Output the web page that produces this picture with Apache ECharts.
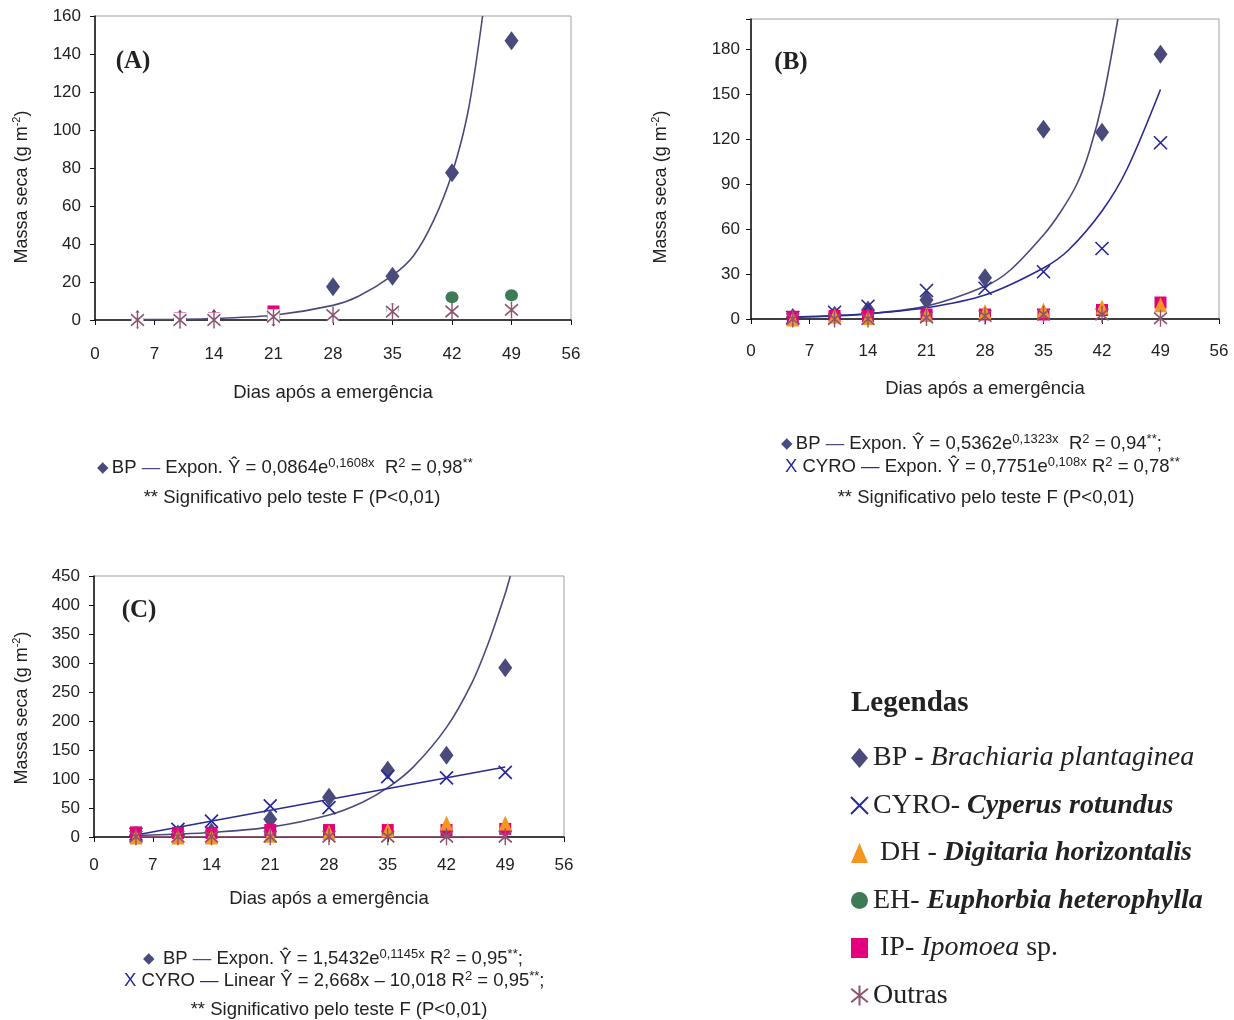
<!DOCTYPE html>
<html style="height: 100%" lang="pt">
<head>
  <meta charset="utf-8">
  <title>Massa seca</title>
</head>
<body style="height: 100%; margin: 0; background: #fff">
<div id="container" style="height: 1020px; width: 1234px"></div>

<script src="https://cdn.jsdelivr.net/npm/echarts@6/dist/echarts.min.js"></script>
<script type="text/javascript">
  // dias apos a emergencia (x of each sample)
  var dias = [5, 10, 14, 21, 28, 35, 42, 49];
  var xTicks = [0, 7, 14, 21, 28, 35, 42, 49, 56];

  // (A)
  var aBP = [0.3, 0.5, 0.8, 1.5, 17.5, 23, 77.5, 147];
  var aEH = [null, null, null, null, null, 5.5, 12, 13];
  var aIP = [null, 1, 1, 4.5, null, null, null, null];
  var aOutras = [0, 0, 0, 1.7, 2.6, 4.4, 4.5, 5.3];
  var aCurveBP = [[5, 0.2], [10, 0.4], [14, 0.8], [21, 2.5], [28, 7.7], [31, 12.5], [35, 23.5], [37.5, 34], [39.8, 52], [42, 77], [43.9, 110], [45.6, 160]];

  // (B)
  var bBP = [1, 2.5, 6, 12.7, 27.5, 126.5, 124.5, 176.5];
  var bCYRO = [1, 4.5, 8.5, 19, 20.5, 31.5, 47, 117.5];
  var bDH = [0, 2, 1, 3, 5, 6, 8, 9.5];
  var bIP = [1.5, 2, 2, 3, 3, 3, 6, 11];
  var bOutras = [0, 0, 0, 1, 2, 3, 3, 0.5];
  var bCurveBP = [[5, 1.0], [10, 2.0], [14, 3.4], [21, 8.6], [28, 21.8], [31, 32.5], [35, 56], [37, 71], [39, 90], [40.5, 112], [42.1, 146], [43.9, 200]];
  var bCurveCYRO = [[5, 1.3], [10, 2.3], [14, 3.5], [21, 7.5], [28, 16], [35, 34], [38, 46], [42, 72], [45, 100], [49, 153]];

  // (C)
  var cBP = [3, 5, 8, 30.5, 68.5, 115, 141, 292];
  var cCYRO = [5, 13, 27.5, 53.5, 50.5, 104, 102, 111.5];
  var cDH = [0, 0, 0, 3, 8, 12, 24, 24];
  var cIP = [8, 7, 7, 12, 12, 12, 12, 14];
  var cOutras = [0.5, 0.5, 0.5, 0.5, 0.5, 0.5, 0.5, 0.5];
  var cCurveBP = [[5, 2.7], [10, 4.9], [14, 7.7], [21, 17], [28, 38], [32, 60], [35, 85], [38, 120], [42, 189], [45, 265], [47, 335], [49, 420], [49.6, 450]];
  var cLineCYRO = [[5, 3.3], [49, 120.7]];
  var cLineOutras = [[5, 0.5], [49, 0.5]];

  var C_BP = '#4a4a7c', C_CYRO = '#2a2a96', C_DH = '#f7961e', C_EH = '#3f7a58', C_IP = '#e5007d', C_OUT = '#8e5470';
  var SANS = 'Liberation Sans, Arial, sans-serif';
  var SERIF = 'Liberation Serif, Times New Roman, serif';
  var X_PATH = 'path://M0,0L10,10M10,0L0,10';
  var STAR_PATH = 'path://M5,0L5,12M0,2L10,10M10,2L0,10';

  var dom = document.getElementById('container');
  var myChart = echarts.init(dom);

  function pts(vals) {
    var out = [];
    for (var i = 0; i < dias.length; i++) {
      if (vals[i] !== null) out.push([dias[i], vals[i]]);
    }
    return out;
  }

  var styles = {
    BP: { symbol: 'diamond', symbolSize: [14, 19], itemStyle: { color: C_BP, opacity: 1 } },
    CYRO: { symbol: X_PATH, symbolSize: [13, 13], itemStyle: { color: 'transparent', borderColor: C_CYRO, borderWidth: 1.7, opacity: 1 } },
    DH: { symbol: 'triangle', symbolSize: [13, 15], itemStyle: { color: C_DH, opacity: 1 } },
    EH: { symbol: 'circle', symbolSize: [13, 12], itemStyle: { color: C_EH, opacity: 1 } },
    IP: { symbol: 'rect', symbolSize: [12, 12], itemStyle: { color: C_IP, opacity: 1 } },
    Outras: { symbol: STAR_PATH, symbolSize: [13, 17], itemStyle: { color: 'transparent', borderColor: C_OUT, borderWidth: 1.6, opacity: 1 } }
  };

  function scatter(name, vals, g) {
    var s = styles[name];
    return {
      type: 'scatter', name: name, xAxisIndex: g, yAxisIndex: g,
      data: pts(vals), symbol: s.symbol, symbolSize: s.symbolSize,
      itemStyle: s.itemStyle, z: 3, emphasis: { disabled: true }
    };
  }
  // Excel's star marker has a white background
  function starBg(vals, g) {
    return {
      type: 'scatter', name: 'Outras_bg', xAxisIndex: g, yAxisIndex: g,
      data: pts(vals), symbol: 'rect', symbolSize: [12, 15],
      itemStyle: { color: '#fff', opacity: 1 }, z: 3, emphasis: { disabled: true }
    };
  }
  function curve(data, color, g) {
    return {
      type: 'line', name: 'curve', xAxisIndex: g, yAxisIndex: g,
      data: data, smooth: 0.3, showSymbol: false, clip: true,
      lineStyle: { color: color, width: 1.6 }, z: 2, silent: true
    };
  }

  var grids = [
    { left: 95, top: 16, width: 476, height: 304 },
    { left: 751, top: 19, width: 468, height: 300 },
    { left: 94, top: 576, width: 470, height: 261 }
  ];
  grids.forEach(function (g) { g.show = true; g.borderColor = '#a0a0a0'; g.borderWidth = 1; });

  var xMargins = [26, 24, 20], xNameGaps = [63, 60, 52];
  var xAxes = [0, 1, 2].map(function (i) {
    return {
      type: 'value', gridIndex: i, min: xTicks[0], max: xTicks[xTicks.length - 1], interval: 7,
      name: 'Dias após a emergência', nameLocation: 'middle', nameGap: xNameGaps[i],
      nameTextStyle: { fontFamily: SANS, fontSize: 18.5, color: '#222' },
      axisLine: { onZero: false, lineStyle: { color: '#111', width: 1.5 } },
      axisTick: { length: 5, lineStyle: { color: '#111' } },
      axisLabel: { margin: xMargins[i], fontFamily: SANS, fontSize: 17, color: '#222' },
      splitLine: { show: false }
    };
  });

  var yRanges = [[0, 160, 20], [0, 200, 30], [0, 450, 50]];
  var yMargins = [14, 11, 14];
  var yAxes = [0, 1, 2].map(function (i) {
    return {
      type: 'value', gridIndex: i, min: yRanges[i][0], max: yRanges[i][1], interval: yRanges[i][2],
      axisLine: { lineStyle: { color: '#111', width: 1.5 } },
      axisTick: { length: 5, lineStyle: { color: '#111' } },
      axisLabel: {
        margin: yMargins[i], fontFamily: SANS, fontSize: 17, color: '#222',
        formatter: function (v) { return (i === 1 && v > 180) ? '' : String(v); }
      },
      splitLine: { show: false }
    };
  });

  var series = [
    // (A)
    curve(aCurveBP, C_BP, 0),
    scatter('BP', aBP, 0),
    scatter('EH', aEH, 0),
    scatter('IP', aIP, 0),
    starBg(aOutras, 0),
    scatter('Outras', aOutras, 0),
    // (B)
    curve(bCurveBP, C_BP, 1),
    curve(bCurveCYRO, C_CYRO, 1),
    scatter('BP', bBP, 1),
    scatter('CYRO', bCYRO, 1),
    scatter('IP', bIP, 1),
    scatter('DH', bDH, 1),
    scatter('Outras', bOutras, 1),
    // (C)
    curve(cCurveBP, C_BP, 2),
    curve(cLineCYRO, C_CYRO, 2),
    curve(cLineOutras, C_OUT, 2),
    scatter('BP', cBP, 2),
    scatter('CYRO', cCYRO, 2),
    scatter('IP', cIP, 2),
    scatter('DH', cDH, 2),
    scatter('Outras', cOutras, 2)
  ];

  // zrender rich tokens use fill
  var eqRich = {
    t: { fontFamily: SANS, fontSize: 18.5, fill: '#222', lineHeight: 22 },
    s: { fontFamily: SANS, fontSize: 13, fill: '#222', lineHeight: 15, verticalAlign: 'top' },
    d: { fontFamily: 'DejaVu Sans', fontSize: 15, fill: C_BP, lineHeight: 22 },
    l: { fontFamily: SANS, fontSize: 18.5, fill: C_BP, lineHeight: 22 },
    x: { fontFamily: SANS, fontSize: 18.5, fill: C_CYRO, lineHeight: 22 },
    lb: { fontFamily: SANS, fontSize: 18.5, fill: C_CYRO, lineHeight: 22 }
  };

  function txt(x, y, text, align, rich, extra) {
    var el = {
      type: 'text', x: x, y: y, silent: true,
      style: { text: text, align: align || 'left', verticalAlign: 'middle', rich: rich || eqRich, fill: '#222' }
    };
    if (extra) for (var k in extra) el[k] = extra[k];
    return el;
  }

  var yNameRich = {
    a: { fontFamily: SANS, fontSize: 18, fill: '#222', lineHeight: 22 },
    s: { fontFamily: SANS, fontSize: 11, fill: '#222', lineHeight: 13, verticalAlign: 'top' }
  };
  var yName = '{a|Massa seca (g m}{s|-2}{a|)}';
  var panelRich = { p: { fontFamily: SERIF, fontSize: 25, fontWeight: 'bold', fill: '#222' } };
  var legTitleRich = { p: { fontFamily: SERIF, fontSize: 29, fontWeight: 'bold', fill: '#222' } };
  var sig = '{t|** Significativo pelo teste F (P<0,01)}';

  var graphic = [
    txt(22, 187, yName, 'center', yNameRich, { rotation: Math.PI / 2 }),
    txt(661, 187, yName, 'center', yNameRich, { rotation: Math.PI / 2 }),
    txt(22, 708, yName, 'center', yNameRich, { rotation: Math.PI / 2 }),
    txt(133, 62, '{p|(A)}', 'center', panelRich),
    txt(791, 63, '{p|(B)}', 'center', panelRich),
    txt(139, 611, '{p|(C)}', 'center', panelRich),
    // (A) equation
    txt(97, 468, '{d|◆} {t|BP }{l|—}{t| Expon. Ŷ = 0,0864e}{s|0,1608x}{t|  R}{s|2}{t| = 0,98}{s|**}', 'left'),
    txt(292, 498, sig, 'center'),
    // (B) equations
    txt(781, 444, '{d|◆} {t|BP }{l|—}{t| Expon. Ŷ = 0,5362e}{s|0,1323x}{t|  R}{s|2}{t| = 0,94}{s|**}{t|;}', 'left'),
    txt(785, 467, '{x|X}{t| CYRO }{lb|—}{t| Expon. Ŷ = 0,7751e}{s|0,108x}{t| R}{s|2}{t| = 0,78}{s|**}', 'left'),
    txt(986, 498, sig, 'center'),
    // (C) equations
    txt(143, 959, '{d|◆} {t| BP }{l|—}{t| Expon. Ŷ = 1,5432e}{s|0,1145x}{t| R}{s|2}{t| = 0,95}{s|**}{t|;}', 'left'),
    txt(124, 981, '{x|X}{t| CYRO }{lb|—}{t| Linear Ŷ = 2,668x – 10,018 R}{s|2}{t| = 0,95}{s|**}{t|;}', 'left'),
    txt(339, 1010, sig, 'center'),
    // legend title
    txt(851, 704, '{p|Legendas}', 'left', legTitleRich)
  ];

  var legendText = {
    BP: '{n|BP }{b|- }{i|Brachiaria plantaginea}',
    CYRO: '{n|CYRO- }{bi|Cyperus rotundus}',
    DH: '{n| DH - }{bi|Digitaria horizontalis}',
    EH: '{n|EH- }{bi|Euphorbia heterophylla}',
    IP: '{n| IP- }{i|Ipomoea}{n| sp.}',
    Outras: '{n|Outras}'
  };

  var option = {
    animation: false,
    backgroundColor: '#fff',
    grid: grids,
    xAxis: xAxes,
    yAxis: yAxes,
    legend: {
      data: ['BP', 'CYRO', 'DH', 'EH', 'IP', 'Outras'],
      orient: 'vertical', left: 845, top: 739,
      itemWidth: 17, itemHeight: 20, itemGap: 19.5,
      selectedMode: false,
      formatter: function (n) { return legendText[n]; },
      textStyle: {
        rich: {
          n: { fontFamily: SERIF, fontSize: 28, color: '#222', lineHeight: 32 },
          b: { fontFamily: SERIF, fontSize: 28, fontWeight: 'bold', color: '#222', lineHeight: 32 },
          i: { fontFamily: SERIF, fontSize: 28, fontStyle: 'italic', color: '#222', lineHeight: 32 },
          bi: { fontFamily: SERIF, fontSize: 28, fontStyle: 'italic', fontWeight: 'bold', color: '#222', lineHeight: 32 }
        }
      }
    },
    graphic: graphic,
    series: series
  };

  myChart.setOption(option);
</script>
</body>
</html>
